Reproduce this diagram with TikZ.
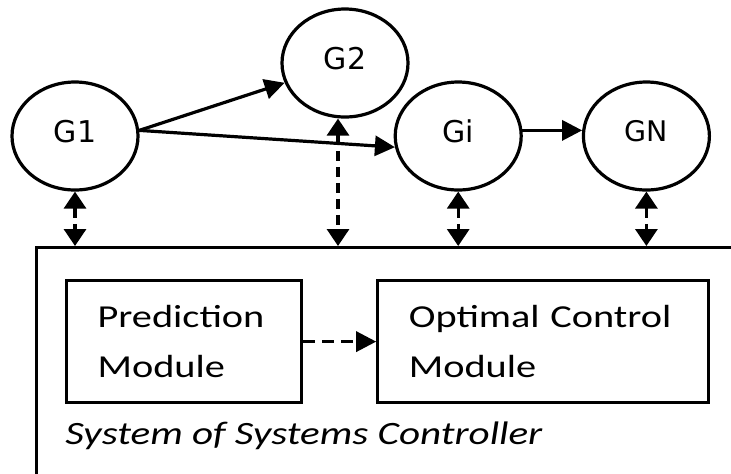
\documentclass[tikz,border=0pt]{standalone}
\usepackage{fontspec}
\setmainfont{Carlito}[FakeStretch=1.26]
\newfontfamily\genfont{DejaVu Sans}
\usetikzlibrary{positioning,arrows.meta,shapes.geometric}
\tikzset{
  node-gen/.style={draw,line width=1.6pt,ellipse,inner sep=0pt,
    minimum width=63pt,minimum height=54pt,text depth=5pt,
    font=\genfont\fontsize{15}{17}\selectfont},
  node-module/.style={draw,line width=1.6pt,rectangle,inner xsep=15.5pt,
    inner ysep=0pt,minimum height=61pt,align=left,
    font=\fontsize{16}{25}\selectfont},
  node-ctrl/.style={draw,line width=1.6pt,rectangle,inner sep=0pt},
  % solid flow between generators, dashed links to the controller
  arrow/.style={-{Triangle[length=10pt,width=10pt]},line width=1.6pt},
  arrow-async/.style={-{Triangle[length=10pt,width=10pt]},line width=1.6pt,
    dash pattern=on 6pt off 3.5pt},
  arrow-both/.style={{Triangle[length=8.5pt,width=11pt]}-{Triangle[length=8.5pt,width=11pt]},
    line width=1.6pt,dash pattern=on 5pt off 3pt},
}
\begin{document}
\begin{tikzpicture}[x=0.5pt,y=-0.5pt,node distance=10pt and 127pt]
  \useasboundingbox (0,0) rectangle (731,473);
  \clip (0,0) rectangle (731,473);
  \node[node-gen] (g1) at (75,136) {G1};
  \node[node-gen,right=of g1] (gi) {Gi};
  \node[node-gen,right=29.5pt of gi,font=\genfont\fontsize{14.2}{17}\selectfont] (gn) {GN};
  \node[node-gen] (g2) at (345,63) {G2};
  \node[node-ctrl,anchor=north west,minimum width=400pt,minimum height=150pt] (ctrl) at (35,246) {};
  \node[node-module,text width=86.5pt,anchor=north west] (pred) at (65,279) {Prediction\\Module};
  \node[node-module,text width=134.5pt,right=36.5pt of pred] (opt) {Optimal Control\\Module};
  \node[anchor=base west,inner sep=0pt,font=\fontsize{16.3}{25}\selectfont\itshape] (title) at (65,444) {System of Systems Controller};
  \draw[arrow] (g1.5) -- (g2);
  \draw[arrow] (g1.5) -- (gi.190);
  \draw[arrow] (gi.5) -- (gn.175);
  \draw[arrow-async] (pred) -- (opt);
  \draw[arrow-both] (g1.south) -- (g1.south |- ctrl.north);
  \draw[arrow-both] ([xshift=-3.5pt]g2.south) -- ([xshift=-3.5pt]g2.south |- ctrl.north);
  \draw[arrow-both] (gi.south) -- (gi.south |- ctrl.north);
  \draw[arrow-both] (gn.south) -- (gn.south |- ctrl.north);
\end{tikzpicture}
\end{document}
